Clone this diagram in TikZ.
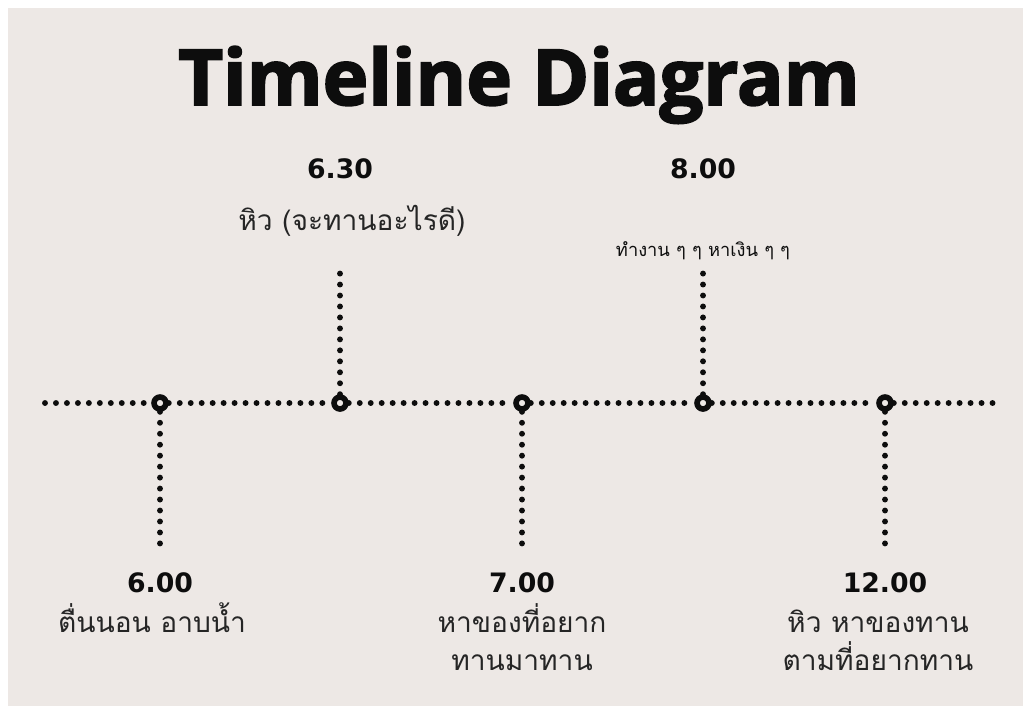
\documentclass[tikz,border=0pt]{standalone}
\usepackage{fontspec}
\usepackage{xcolor}
\newfontfamily\titlefont[BoldFeatures={FakeBold=2.4}]{Open Sans}
\newfontfamily\timefont{DejaVu Sans}
\newfontfamily\thaifont[Script=Thai]{Loma}
\definecolor{paper-bg}{HTML}{EDE8E5}
\definecolor{ink}{HTML}{0D0D0D}

\tikzset{
  dotline/.style={ink, line width=4.2pt, line cap=round, dash pattern=on 0pt off 7.8pt},
  stop/.style={circle, draw=ink, line width=4pt, fill=paper-bg, minimum size=8.5pt, inner sep=0pt},
  timelabel/.style={font=\timefont\bfseries\fontsize{19}{22}\selectfont, text=ink, anchor=base},
  thailabel/.style={font=\thaifont\fontsize{20}{27}\selectfont, text=ink!90, align=center, anchor=base},
  smallthai/.style={font=\thaifont\fontsize{13}{16}\selectfont, text=ink, anchor=base}
}

\begin{document}
\begin{tikzpicture}[x=0.025cm, y=-0.025cm]
      \useasboundingbox (0,0) rectangle (1029,713);
      \fill[white] (0,0) rectangle (1029,713);
      \fill[paper-bg] (8,8) rectangle (1023,706);

      % title
      \node[font=\titlefont\bfseries\fontsize{55}{62}\selectfont, text=ink, anchor=base]
        (title) at (519,105) {Timeline Diagram};

      % stops on the line
      \coordinate (lineL) at (45,403);
      \coordinate (lineR) at (1000,403);
      \node[stop] (t600) at (160,403) {};
      \node[stop] (t630) at (340,403) {};
      \node[stop] (t700) at (522,403) {};
      \node[stop] (t800) at (703,403) {};
      \node[stop] (t1200) at (885,403) {};
      \draw[dotline] (lineL) -- (t600);
      \draw[dotline] (t600) -- (t630);
      \draw[dotline] (t630) -- (t700);
      \draw[dotline] (t700) -- (t800);
      \draw[dotline] (t800) -- (t1200);
      \draw[dotline] (t1200) -- (lineR);

      % ticks
      \coordinate (e600) at (160,551);
      \coordinate (e630) at (340,272);
      \coordinate (e700) at (522,552);
      \coordinate (e800) at (703,272);
      \coordinate (e1200) at (885,552);
      \draw[dotline] (t600) -- (e600);
      \draw[dotline] (t630) -- (e630);
      \draw[dotline] (t700) -- (e700);
      \draw[dotline] (t800) -- (e800);
      \draw[dotline] (t1200) -- (e1200);

      % labels below (two-line labels sit on their last line)
      \node[timelabel] (l600) at (160,592) {6.00};
      \node[thailabel] (d600) at (152,632) {ตื่นนอน อาบน้ำ};
      \node[timelabel] (l700) at (522,592) {7.00};
      \node[thailabel] (d700) at (522,670) {หาของที่อยาก\\ทานมาทาน};
      \node[timelabel] (l1200) at (885,592) {12.00};
      \node[thailabel] (d1200) at (878,670) {หิว หาของทาน\\ตามที่อยากทาน};

      % labels above
      \node[timelabel] (l630) at (340,178) {6.30};
      \node[thailabel] (d630) at (352,230) {หิว (จะทานอะไรดี)};
      \node[timelabel] (l800) at (703,178) {8.00};
      \node[smallthai] (d800) at (703,256) {ทำงาน ๆ ๆ หาเงิน ๆ ๆ};
    \end{tikzpicture}
\end{document}
